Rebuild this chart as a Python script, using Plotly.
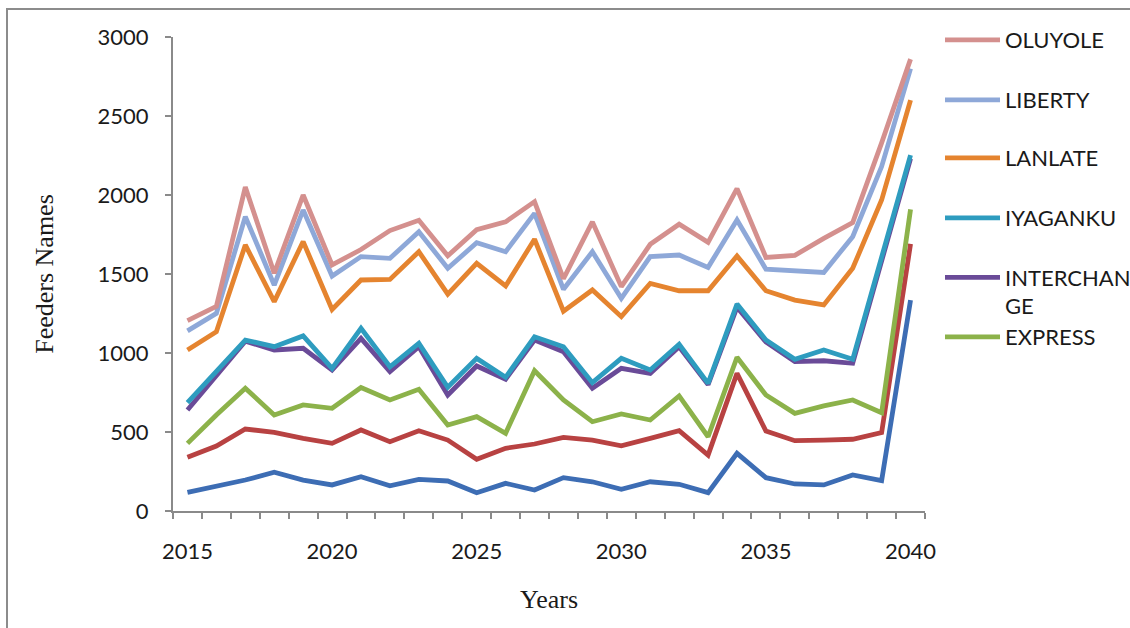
import plotly.graph_objects as go

# Feeder series, one value per year
years = list(range(2015, 2041))

oluyole = [1205, 1295, 2050, 1505, 2000, 1557, 1655, 1775, 1840, 1615, 1780, 1830, 1958,
           1470, 1830, 1420, 1688, 1815, 1700, 2040, 1605, 1618, 1725, 1825, 2330, 2860]
liberty = [1140, 1251, 1863, 1430, 1905, 1487, 1610, 1599, 1768, 1536, 1698, 1641, 1884,
           1403, 1641, 1346, 1610, 1620, 1542, 1842, 1530, 1521, 1510, 1736, 2180, 2800]
lanlate = [1019, 1135, 1684, 1325, 1705, 1276, 1462, 1466, 1641, 1373, 1568, 1424, 1720,
           1265, 1399, 1230, 1441, 1394, 1394, 1614, 1394, 1335, 1304, 1536, 1968, 2600]
iyaganku = [686, 880, 1082, 1040, 1108, 903, 1156, 913, 1061, 783, 966, 846, 1103,
            1040, 812, 966, 892, 1055, 808, 1310, 1082, 960, 1019, 960, 1610, 2253]
interchange = [639, 861, 1075, 1019, 1030, 892, 1093, 882, 1040, 734, 918, 834, 1082,
               1008, 777, 903, 871, 1040, 800, 1290, 1070, 945, 951, 935, 1585, 2230]
express = [428, 608, 777, 608, 671, 650, 781, 703, 770, 544, 597, 492, 888,
           703, 565, 614, 576, 728, 470, 973, 734, 618, 665, 703, 622, 1909]
feeder_b = [340, 411, 519, 498, 460, 428, 513, 439, 508, 449, 327, 397, 424,
            466, 449, 413, 460, 508, 354, 871, 506, 445, 449, 454, 496, 1690]
feeder_a = [118, 158, 196, 245, 196, 165, 217, 160, 200, 190, 116, 175, 133,
            211, 185, 137, 185, 169, 116, 365, 211, 171, 165, 228, 192, 1335]

year_ticks = [2015, 2020, 2025, 2030, 2035, 2040]
value_ticks = [0, 500, 1000, 1500, 2000, 2500, 3000]

# drawing order: first series at the bottom of the stack of lines
series = [
    ("Feeder A", feeder_a, "#3D6DB4", None),
    ("Feeder B", feeder_b, "#B84242", None),
    ("EXPRESS", express, "#8CB24A", "legend6"),
    ("INTERCHAN<br>GE", interchange, "#6A4B98", "legend5"),
    ("IYAGANKU", iyaganku, "#2E9CBF", "legend4"),
    ("LANLATE", lanlate, "#E5842F", "legend3"),
    ("LIBERTY", liberty, "#8EA8D8", "legend2"),
    ("OLUYOLE", oluyole, "#D4908E", "legend"),
]

fig = go.Figure()
for name, vals, color, leg in series:
    fig.add_trace(go.Scatter(
        x=years, y=vals, name=name, mode="lines",
        line=dict(color=color, width=4.8),
        showlegend=leg is not None,
        legend=leg if leg else "legend",
    ))

axis_grey = "#8A8A8A"
label_font = dict(family="Lato", size=22, color="#1a1a1a")

# one legend box per entry, stacked down the right side
legend_centers = {"legend": 40, "legend2": 100, "legend3": 158,
                  "legend4": 218, "legend5": 292, "legend6": 337}
legend_common = dict(
    xref="container", yref="container", x=940 / 1130,
    xanchor="left", yanchor="middle",
    bgcolor="rgba(0,0,0,0)", font=label_font,
    itemwidth=55, valign="top",
)
legend_layout = {}
for key, cy in legend_centers.items():
    legend_layout[key] = dict(legend_common, y=1 - cy / 628)

fig.update_layout(
    width=1130, height=628,
    margin=dict(l=173, r=205, t=37, b=117, autoexpand=False),
    paper_bgcolor="white", plot_bgcolor="white",
    xaxis=dict(
        range=[2014.5, 2040.5],
        tickmode="array", tickvals=year_ticks,
        ticks="", ticklabelstandoff=20,
        showgrid=False, zeroline=False,
        showline=True, linecolor=axis_grey, linewidth=2,
        tickfont=label_font,
        minor=dict(ticks="outside", tickmode="linear", tick0=2014.5, dtick=1,
                   ticklen=6, tickcolor=axis_grey, tickwidth=1.5, showgrid=False),
        title=dict(text="Years", standoff=26,
                   font=dict(family="Liberation Serif", size=26, color="#1a1a1a")),
    ),
    yaxis=dict(
        range=[0, 3000],
        tickmode="array", tickvals=value_ticks,
        ticks="outside", ticklen=6, tickcolor=axis_grey, tickwidth=1.5,
        ticklabelstandoff=12,
        showgrid=False, zeroline=False,
        showline=True, linecolor=axis_grey, linewidth=2,
        tickfont=label_font,
        title=dict(text="Feeders Names", standoff=36,
                   font=dict(family="Liberation Serif", size=26, color="#1a1a1a")),
    ),
    **legend_layout,
)

# outer chart frame
fig.add_shape(type="rect", xref="paper", yref="paper",
              x0=(7 - 173) / 752, x1=(1140 - 173) / 752,
              y0=(511 - 640) / 474, y1=(511 - 9) / 474,
              line=dict(color="#8C8C8C", width=2), fillcolor="rgba(0,0,0,0)",
              layer="below")

fig.write_html("out.html")
